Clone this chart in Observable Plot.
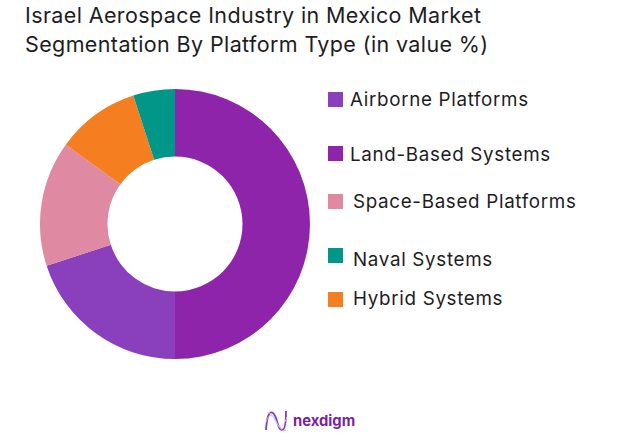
<!DOCTYPE html>
<html><head><meta charset="utf-8">
<script src="https://cdn.jsdelivr.net/npm/d3@7"></script>
<script src="https://cdn.jsdelivr.net/npm/@observablehq/plot@0.6"></script>
<style>
html,body{margin:0;padding:0;background:#fff;width:644px;height:433px;overflow:hidden;font-family:Inter,"Noto Sans",sans-serif;color:#1d1d1f}
#title{position:absolute;left:25px;top:1px;font-size:21.5px;line-height:29px;font-weight:400;white-space:nowrap;letter-spacing:.38px}
#chart{position:absolute;left:0;top:72px}
.lg{position:absolute;white-space:nowrap;font-size:18.8px;line-height:22px;letter-spacing:.68px}
.sw{position:absolute;left:328px;width:15px;height:15px}
#brand{position:absolute;left:264px;top:408px;height:26px}
#brandText{position:absolute;left:293px;top:410px;font-size:14.8px;line-height:22px;font-weight:700;color:#7b1fa2}
</style></head><body>
<div id="title">Israel Aerospace Industry in Mexico Market<br>Segmentation By Platform Type (in value %)</div>
<div id="chart"></div>
<div id="legend"></div>
<svg id="brand" width="26" height="26" viewBox="0 0 26 26" fill="none"><path d="M2 22C3 6 6 3 9 5C14 9 13 22 18 22C21 22 22 12 22 3" stroke="#7e3fc0" stroke-width="1.8"/><path d="M2 14C5 4 9 7 12 13C15 19 18 25 22 22" stroke="#c9a4e6" stroke-width="1"/><path d="M3 5C7 3 11 12 13 16C15 20 19 20 23 9" stroke="#dcc6f0" stroke-width=".8"/></svg>
<div id="brandText">nexdigm</div>
<script>
const categories = ["Land-Based Systems","Airborne Platforms","Space-Based Platforms","Hybrid Systems","Naval Systems"];
const shares = [50,20,15,10,5];
const colors = ["#8E24AA","#8A3FBC","#DF89A3","#F57F20","#009688"];
const legendOrder = ["Airborne Platforms","Land-Based Systems","Space-Based Platforms","Naval Systems","Hybrid Systems"];
const legendSwatchTop = [92,146,194,248,292];
const legendTextLeft = [350,350,353,353,353];
const legendTextTop = [89,144,191,249,288];

const rows = categories.map((c,i)=>({category:c,share:shares[i]}));
const cx=175, cy=152, outer=135, inner=67.5;

const plot = Plot.plot({
  width:644, height:300, margin:0,
  x:{domain:[0,100],range:[0,2*Math.PI],axis:null},
  y:{axis:null},
  color:{domain:categories,range:colors},
  marks:[
    Plot.barX(rows,{
      x:"share", fill:"category", order:null,
      render(index,scales,values,dims,context){
        const g=d3.select(context.document.createElementNS("http://www.w3.org/2000/svg","g"))
          .attr("transform",`translate(${cx},${cy})`);
        const arc=d3.arc().innerRadius(inner).outerRadius(outer);
        for(const i of index){
          g.append("path")
           .attr("d",arc({startAngle:values.x1[i],endAngle:values.x2[i]}))
           .attr("fill",values.fill[i]);
        }
        return g.node();
      }
    })
  ]
});
document.getElementById("chart").append(plot);

const lg=document.getElementById("legend");
legendOrder.forEach((name,i)=>{
  const s=document.createElement("div");
  s.className="sw";s.style.top=legendSwatchTop[i]+"px";
  s.style.background=colors[categories.indexOf(name)];
  lg.append(s);
  const t=document.createElement("div");
  t.className="lg";t.textContent=name;
  t.style.left=legendTextLeft[i]+"px";t.style.top=legendTextTop[i]+"px";
  lg.append(t);
});
</script></body></html>
